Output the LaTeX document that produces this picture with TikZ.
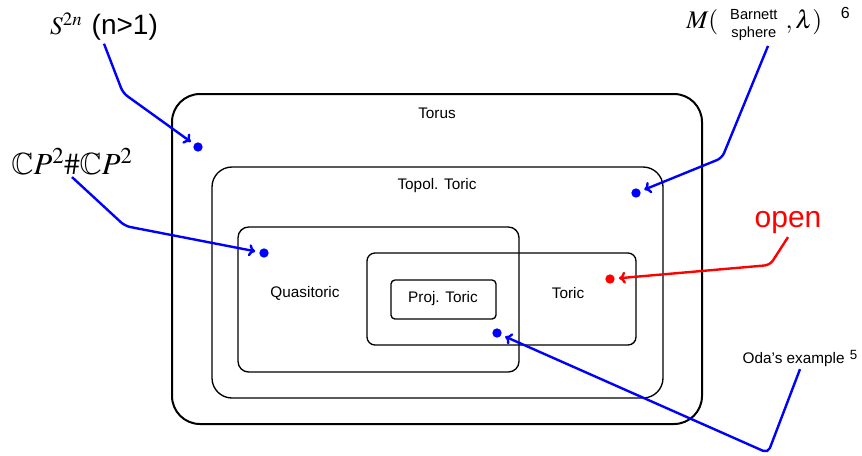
\documentclass[tikz,border=0pt]{standalone}
\usepackage{mathptmx}
\usepackage{amssymb}
\usepackage[no-math]{fontspec}
\setmainfont{Liberation Sans}
\usetikzlibrary{arrows.meta,fit}

\begin{document}
\begin{tikzpicture}[
  x=0.75pt, y=-0.75pt,
  setbox/.style={draw, line width=1pt, inner sep=0pt},
  setname/.style={font=\fontsize{11.5}{13}\selectfont},
  dot/.style={circle, fill, inner sep=0pt, minimum size=7pt},
  tag/.style={inner sep=2pt},
  pointer/.style={-{To[length=5pt, width=9pt]}, line width=1.8pt,
    rounded corners=4pt, shorten >=3pt},
]
  \useasboundingbox (0,0) rectangle (862,455);

  % nested classes
  \node[setbox, line width=1.5pt, rounded corners=21pt, fit={(172,94) (702,424)}] (torus) {};
  \node[setbox, rounded corners=15pt, fit={(212,167) (663,398)}] (topol) {};
  \node[setbox, rounded corners=8pt, fit={(238,227) (519,372)}] (quasi) {};
  \node[setbox, rounded corners=6pt, fit={(367,253) (636,345)}] (toric) {};
  \node[setbox, rounded corners=3pt, fit={(391,280) (496,319)}] (proj) {};

  \node[setname] (torustxt) at (437,113) {Torus};
  \node[setname] (topoltxt) at (437,186) {Topol. Toric};
  \node[setname] (quasitxt) at (305,293) {Quasitoric};
  \node[setname] (torictxt) at (568,293) {Toric};
  \node[setname] (projtxt) at (443,299) {Proj. Toric};

  % examples
  \node[dot, blue] (d1) at (198,147) {};
  \node[dot, blue] (d2) at (636,193) {};
  \node[dot, blue] (d3) at (264,253) {};
  \node[dot, red] (d4) at (610,279) {};
  \node[dot, blue] (d5) at (497,333) {};

  \node[tag] (sphere) at (104,27)
    {{\fontsize{19}{22}\selectfont$S^{2n}$}\hspace{7pt}{\fontsize{21}{23}\selectfont(n>1)}};
  \node[tag, font=\fontsize{23}{25}\selectfont] (cpcp) at (72,161)
    {$\mathbb{C}P^2\#\mathbb{C}P^2$};
  \node[tag, font=\fontsize{19}{22}\selectfont] (barnett) at (768,25)
    {$M($\hspace{9pt}{\fontsize{11}{13.5}\selectfont\begin{tabular}{@{}c@{}}Barnett\\sphere\end{tabular}}\hspace{6pt}$,\lambda)$\hspace{14pt}\raisebox{7.5pt}{\fontsize{12}{12}\selectfont 6}};
  \node[tag, red, font=\fontsize{22.5}{24}\selectfont] (open) at (788,223) {open};
  \node[tag, setname] (oda) at (800,358)
    {Oda's example\hspace{4pt}\raisebox{3pt}{\fontsize{10}{10}\selectfont 5}};

  \coordinate (k1) at (123,93);
  \coordinate (k2) at (125,226);
  \coordinate (k3) at (722,158);
  \coordinate (k4) at (770,265);
  \coordinate (k5) at (768,453);

  \draw[pointer, blue] (sphere.south) -- (k1) -- (d1);
  \draw[pointer, blue] (cpcp.south) -- (k2) -- (d3);
  \draw[pointer, blue] (barnett.south) -- (k3) -- (d2);
  \draw[pointer, red] (open.south) -- (k4) -- (d4);
  \draw[pointer, blue] (oda.south) -- (k5) -- (d5);
\end{tikzpicture}
\end{document}
